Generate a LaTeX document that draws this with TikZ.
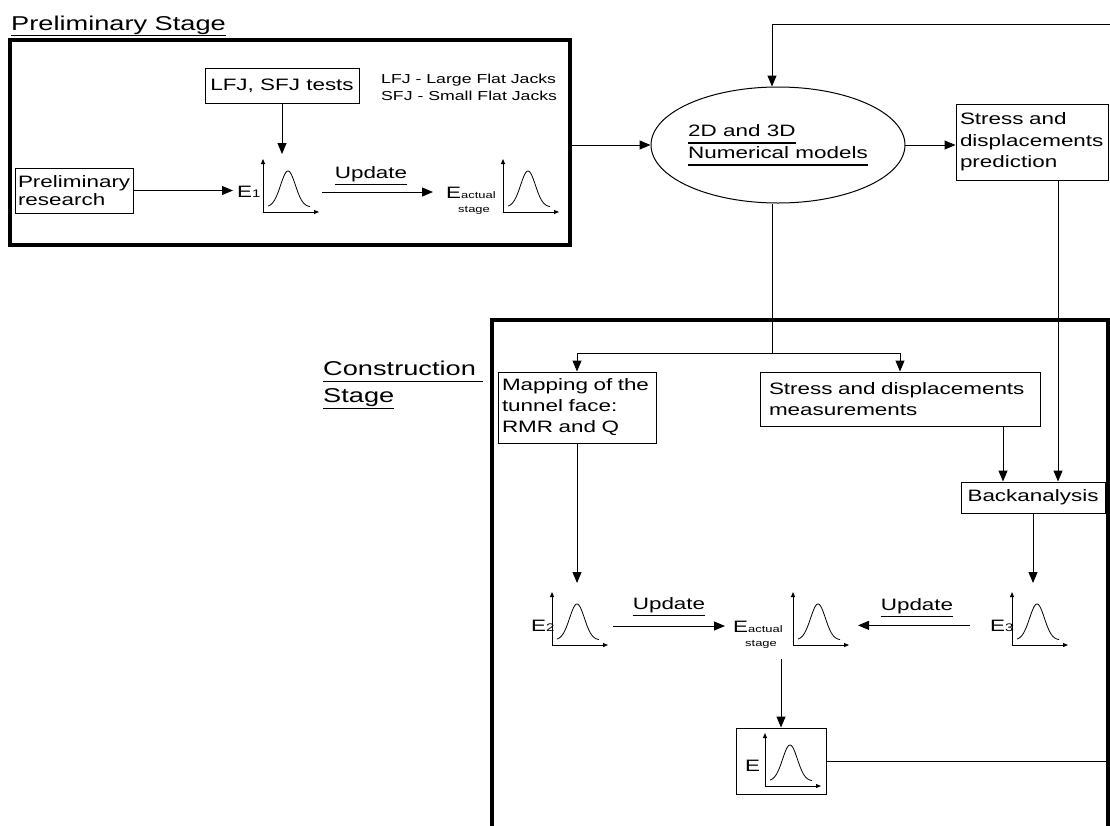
\documentclass[tikz,border=0pt]{standalone}
\usepackage{fontspec}
\setmainfont{Liberation Sans}[FakeStretch=1.36]
\usetikzlibrary{arrows.meta,shapes.geometric}
\newcommand\fmain{\fontsize{16.5}{21}\selectfont}
\newcommand\ftitle{\fontsize{20}{27}\selectfont}
\newcommand\fleg{\fontsize{13}{17}\selectfont}
\newcommand\fsub{\fontsize{11}{13}\selectfont}
\newcommand\fsmall{\fontsize{9.5}{11}\selectfont}
\newcommand\myul[2][5.5]{\leavevmode\setbox0\hbox{#2}\rlap{\vrule height -#1pt depth \dimexpr#1pt+1.2pt\relax width \wd0}\box0}
\begin{document}
\begin{tikzpicture}[x=1pt,y=1pt,
  thinline/.style={line width=1pt},
  arr/.style={line width=1pt,-{Triangle[length=11pt,width=9pt]}},
  frame/.style={line width=3.5pt},
  box/.style={draw,line width=1pt,inner sep=4pt,font=\fmain},
  txt/.style={inner sep=0pt,font=\fmain},
  dist/.pic={
    \draw[line width=0.9pt,-{Triangle[length=5pt,width=4pt]}] (0,0) -- (0,53);
    \draw[line width=0.9pt,-{Triangle[length=5pt,width=4pt]}] (0,0) -- (56,0);
    \draw[line width=0.8pt] plot[domain=5:47,samples=60,smooth] (\x,{5+36*exp(-(\x-25)*(\x-25)/110)});
  }]
\useasboundingbox (0,0) rectangle (1110,-825);

% ---------------- Preliminary stage ----------------
\node[anchor=base west, inner sep=0pt, font=\ftitle] (t1) at (11,-30) {\myul[5]{Preliminary Stage}};
\node[draw, frame, minimum width=560pt, minimum height=205pt, inner sep=0pt] (prelim) at (290,-142.5) {};
\node[box, minimum width=154pt, minimum height=35pt] (lfj) at (282,-85.5) {LFJ, SFJ tests};
\node[anchor=base west, inner sep=0pt, font=\fleg] (leg1) at (381,-83) {LFJ - Large Flat Jacks};
\node[anchor=base west, inner sep=0pt, font=\fleg] (leg2) at (381,-100) {SFJ - Small Flat Jacks};
\node[box, align=left, text width=112pt, inner sep=3pt, minimum height=45pt, font=\fontsize{16.5}{18.5}\selectfont] (pr) at (74,-190.5) {Preliminary\\research};

\node[txt, anchor=base west] (e1) at (237,-197) {E{\fsub 1}};
\pic at (263,-212) {dist};
\coordinate (d1in) at (282,-154);
\draw[arr] (lfj.south) -- (d1in);
\draw[arr, shorten >=4pt] (pr.east) -- (pr.east -| e1.west);
\node[txt, anchor=base] (u1) at (371,-178) {\myul[6]{Update}};
\coordinate (d1out) at (322,-192);
\node[txt, anchor=base west] (ea1) at (446,-198) {E{\fsmall actual}};
\node[txt, anchor=base, font=\fsmall] (ea1s) at (474,-212) {stage};
\draw[arr, shorten >=13pt] (d1out) -- (d1out -| ea1.west);
\pic at (503,-212) {dist};

% ---------------- Numerical models ----------------
\node[draw, ellipse, line width=1pt, minimum width=219pt, minimum height=116pt, inner sep=0pt, align=left, font=\fontsize{16.5}{22}\selectfont] (ell) at (778,-145) {\myul[6]{2D and 3D}\\\myul[6]{Numerical models}};
\draw[arr] (prelim.east |- ell.west) -- (ell.west);
\node[box, align=left, text width=144pt, minimum height=76pt, inner sep=4pt, font=\fontsize{16.5}{21.3}\selectfont] (sp) at (1032,-142) {Stress and\\displacements\\prediction};
\draw[arr] (ell.east) -- (ell.east -| sp.west);
\coordinate (fb) at (1110,-24);
\draw[arr] (fb) -| ([xshift=-6pt]ell.north);

% ---------------- Construction stage ----------------
\draw[frame] (492,-830) -- (492,-320) -- (1108,-320) -- (1108,-830);
\node[anchor=base west, inner sep=0pt, font=\ftitle] (cs1) at (323,-375) {\myul[6]{Construction\ }};
\node[anchor=base west, inner sep=0pt, font=\ftitle] (cs2) at (323,-402) {\myul[6]{Stage}};

\node[box, align=left, text width=150pt, inner sep=4pt, minimum height=71pt, font=\fontsize{16.5}{21}\selectfont] (map) at (577,-407.5) {Mapping of the\\tunnel face:\\RMR and Q};
\node[box, align=left, text width=262pt, inner xsep=9pt, inner ysep=4pt, minimum height=54pt, font=\fontsize{16.5}{21}\selectfont] (sm) at (900,-399) {Stress and displacements\\measurements};
\node[box, minimum width=144pt, minimum height=31pt, inner sep=2pt] (ba) at (1033,-497.5) {Backanalysis};

\coordinate (br) at (772,-353);
\draw[thinline] ([xshift=-6pt]ell.south) -- (br);
\draw[arr] (br) -| (map.north);
\draw[arr] (br) -| (sm.north);
\draw[arr] ([xshift=103pt]sm.south) -- ([xshift=-30pt]ba.north);
\draw[arr] ([xshift=26pt]sp.south) -- ([xshift=25pt]ba.north);

\coordinate (e3in) at (1033,-583);
\draw[arr] (ba.south) -- (e3in);
\coordinate (e2in) at (577,-583);
\draw[arr] (map.south) -- (e2in);

% bottom row
\node[txt, anchor=base west] (e2) at (531,-631) {E{\fsub 2}};
\pic at (552,-645) {dist};
\node[txt, anchor=base] (u2) at (669,-609) {\myul[6]{Update}};
\coordinate (d2out) at (613,-626);
\node[txt, anchor=base west] (ea2) at (733,-632) {E{\fsmall actual}};
\node[txt, anchor=base, font=\fsmall] (ea2s) at (761,-646) {stage};
\draw[arr, shorten >=8pt] (d2out) -- (d2out -| ea2.west);
\pic at (793,-645) {dist};
\node[txt, anchor=base] (u3) at (917,-610) {\myul[6]{Update}};
\node[txt, anchor=base west] (e3) at (990,-631) {E{\fsub 3}};
\pic at (1012,-645) {dist};
\coordinate (d3in) at (858,-627);
\draw[arr, shorten <=20pt] (e3.west) -- (e3.west -| d3in);

% final E
\node[draw, line width=1pt, minimum width=90pt, minimum height=66pt, inner sep=0pt] (ebox) at (781,-761) {};
\node[txt, anchor=base west] (eE) at (745,-771) {E};
\pic at (765,-786) {dist};
\coordinate (eadown) at (781,-659);
\draw[arr] (eadown) -- (ebox.north);
\coordinate (eright) at (1108,-761);
\draw[thinline] (ebox.east) -- (eright);
\end{tikzpicture}
\end{document}
